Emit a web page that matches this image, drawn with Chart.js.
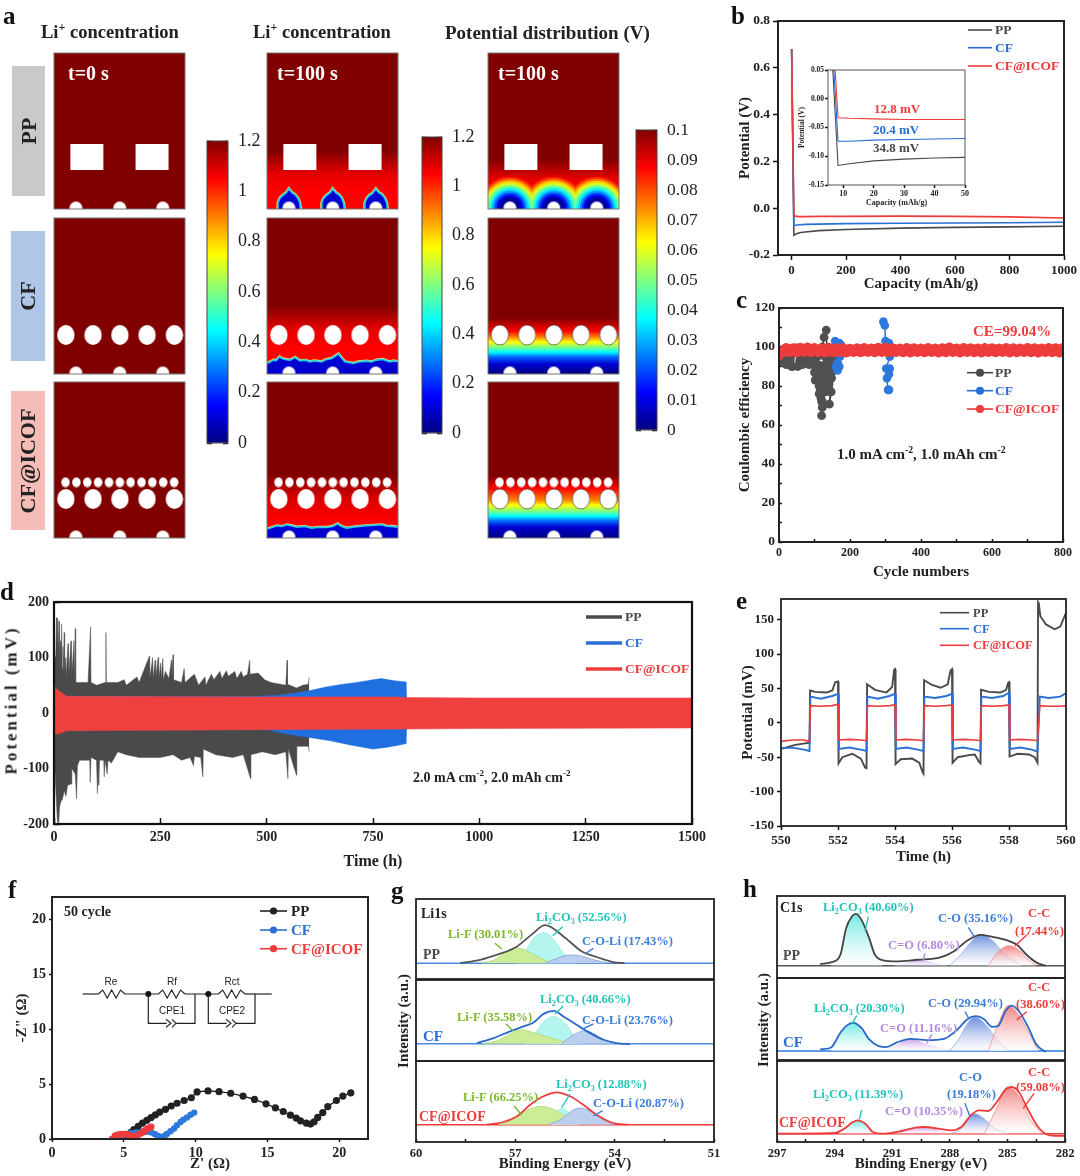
<!DOCTYPE html>
<html>
<head>
<meta charset="utf-8">
<script src="https://cdn.jsdelivr.net/npm/chart.js@4"></script>
<style>
html, body { margin: 0; padding: 0; background: #fff; }
#fig { position: relative; width: 1080px; height: 1176px; overflow: hidden; filter: blur(0.35px); }
#fig canvas { position: absolute; }
#fig svg { position: absolute; left: 0; top: 0; }
.t { position: absolute; white-space: nowrap; font-family: "Liberation Serif", serif; font-weight: bold; line-height: 1; }
.t sup, .t sub { font-size: 65%; line-height: 0; }
</style>
</head>
<body>
<div id="fig"></div>
<script>
// ---- panel a: fields (depth = height above the lower edge)
const holeRectX = [33, 98.5];
const holeRectY = [52, 52];
const holeBottomX = [22, 66, 109.3];
const holeBottomY = [1, 1, 1];
const holeBigX = [11.7, 39, 66, 93.3, 120.7];
const holeBigY = [39, 39, 39, 39, 39];
const holeSmallX = [11.3, 22.2, 33.1, 44, 54.9, 65.8, 76.7, 87.6, 98.5, 109.4, 120.3];
const holeSmallY = [56, 56, 56, 56, 56, 56, 56, 56, 56, 56, 56];

const flatDepth = [0, 156];
const flatLi = [1.2, 1.2];
const ppLiDepth = [0, 18, 35, 58, 156];
const ppLiConc = [1.05, 1.05, 1.08, 1.2, 1.2];
const cfLiDepth = [0, 25, 45, 68, 156];
const cfLiConc = [1.05, 1.05, 1.08, 1.2, 1.2];
const icofLiDepth = [0, 18, 38, 64, 156];
const icofLiConc = [1.05, 1.05, 1.09, 1.2, 1.2];
const ppVDepth = [0, 25, 50, 156];
const ppVPot = [0.0875, 0.0875, 0.1, 0.1];
const cfVDepth = [0, 10, 17, 22, 27, 32, 37, 43, 56, 156];
const cfVPot = [0, 0.008, 0.0225, 0.0375, 0.05, 0.0625, 0.075, 0.0875, 0.1, 0.1];
const icofVDepth = [0, 11, 17, 22, 27, 33, 38, 50, 62, 156];
const icofVPot = [0, 0.008, 0.0225, 0.0375, 0.05, 0.0625, 0.075, 0.0875, 0.1, 0.1];

const ppFrontX = [10.3, 11, 13, 16, 19, 22, 25, 28, 31, 33, 33.7, null, 54.3, 55, 57, 60, 63, 66, 69, 72, 75, 77, 77.7, null, 97.6, 98.3, 100.3, 103.3, 106.3, 109.3, 112.3, 115.3, 118.3, 120.3, 121];
const ppFrontY = [0, 6, 11, 14, 16, 20.3, 16.5, 14.5, 11, 6, 0, null, 0, 6, 11, 14, 16, 20.3, 16.5, 14.5, 11, 6, 0, null, 0, 6, 11, 14, 16, 20.3, 16.5, 14.5, 11, 6, 0];
const cfFrontX = [0, 3, 6.7, 9, 12.7, 15, 18.3, 23.3, 28.3, 31, 33.3, 38, 43.3, 47, 51.7, 55, 58.3, 65, 71.7, 75, 78.3, 82, 86.7, 92, 100, 105, 110, 116.7, 120, 123.3, 127, 131.6];
const cfFrontY = [10.7, 12, 14, 13.2, 17.3, 15.5, 14.7, 14, 16.7, 14.6, 13.3, 13.8, 12.3, 13.2, 12.7, 12.1, 14, 15.7, 20, 16, 12.3, 11.6, 10.7, 12.2, 13, 12.2, 14, 14.7, 13.4, 12.3, 13.2, 12.3];
const icofFrontX = [0, 5, 10, 15, 20, 25, 30, 38, 45, 52, 60, 66, 71, 75, 80, 90, 100, 108, 115, 120, 125, 131.6];
const icofFrontY = [9, 10.5, 12.3, 11.6, 13.3, 12.2, 11, 11.6, 10, 10.8, 10.7, 11.7, 14.3, 11.6, 10, 11.5, 12.3, 12.8, 13.3, 12, 11.7, 11];

const ringRadius = [33, 31, 29, 27, 25, 23, 21, 19, 17, 15, 13, 11];
const ringPot = [0.09, 0.083, 0.075, 0.067, 0.058, 0.05, 0.042, 0.034, 0.026, 0.018, 0.01, 0.003];

const liBarTicks = 0.2;
const vBarTicks = 0.01;

// ---- panel b
const capX = [0, 8.3, 12, 20, 30, 40, 50, 100, 200, 400, 600, 800, 1000];
const capPP = [0.68, -0.116, -0.113, -0.108, -0.105, -0.103, -0.102, -0.096, -0.091, -0.085, -0.082, -0.08, -0.077];
const capCF = [0.68, -0.074, -0.074, -0.072, -0.071, -0.07, -0.069, -0.068, -0.066, -0.064, -0.063, -0.062, -0.06];
const capICOF = [0.68, -0.033, -0.034, -0.035, -0.036, -0.036, -0.036, -0.035, -0.035, -0.034, -0.035, -0.037, -0.042];

// ---- panel c
const cePPx = [2, 6, 11, 15, 20, 25, 30, 35, 39, 44, 48, 53, 58, 62, 66, 70, 75, 80, 85, 90, 95, 99, 103, 100, 102, 105, 103, 108, 110, 113, 115, 113, 116, 113, 118, 120, 122, 120, 122, 125, 131, 129, 127, 129, 122, 127, 133, 136, 138, 141, 145, 142, 147, 148, 150, 148, 152, 146, 140, 136, 130];
const cePPy = [96, 94, 92, 95, 91, 93, 94, 90, 90, 97, 99.5, 90, 93, 97, 91, 94, 96, 92, 91, 95, 98, 93, 90, 87, 83, 86, 87.5, 95, 91, 90, 84, 80, 78, 76, 74, 72, 69, 64.8, 72, 79, 77, 83, 87, 91, 100, 105, 108.7, 91, 94, 81, 77, 70.7, 77, 84, 87.5, 92, 95, 86, 80, 88, 95];
const ceCFx = [158, 160, 163, 165, 160, 165, 170, 172, 175, 170, null, 294, 298, 300, 303, 310, 312, 302, 312, 310, 304, 307, 310];
const ceCFy = [103, 100, 97, 92, 90, 88, 90, 95, 101, 102, null, 113, 111, 103, 98, 102, 95, 89, 89, 86, 84, 78, 78];
const ceICOFx = [0, 10, 20, 30, 40, 50, 60, 70, 80, 90, 100, 110, 120, 130, 140, 150, 160, 170, 180, 190, 200, 210, 220, 230, 240, 250, 260, 270, 280, 290, 300, 310, 320, 330, 340, 350, 360, 370, 380, 390, 400, 410, 420, 430, 440, 450, 460, 470, 480, 490, 500, 510, 520, 530, 540, 550, 560, 570, 580, 590, 600, 610, 620, 630, 640, 650, 660, 670, 680, 690, 700, 710, 720, 730, 740, 750, 760, 770, 780, 790, 800];
const ceICOFy = [96, 97.6, 99.2, 97.7, 99.1, 97.6, 99.3, 97.8, 99.5, 97.6, 99.2, 97.7, 99, 97.5, 99.3, 97.7, 99.1, 97.6, 99.2, 97.5, 98.9, 97.7, 99.1, 97.6, 99.2, 97.8, 99, 97.6, 99.3, 97.7, 99.4, 97.5, 99.1, 97.7, 99, 97.6, 99.2, 97.5, 99.1, 97.7, 99, 97.6, 99.2, 97.7, 99, 97.5, 99.1, 97.6, 99.5, 97.7, 99, 97.5, 99.2, 97.7, 99.1, 97.6, 99, 97.5, 99.2, 97.7, 99.1, 97.6, 99, 97.7, 99.2, 97.5, 99.1, 97.6, 99, 97.7, 99.2, 97.6, 99.1, 97.5, 99, 97.7, 99.2, 97.6, 99.1, 97.5, 99.2];

// ---- panel d: envelopes of the cycling curves
const dPPupT = [0, 2, 4, 6, 7, 9, 10, 12, 13, 15, 16, 18, 19, 21, 22, 24, 25, 28, 29, 33, 34, 40, 41, 47, 48, 50, 51, 60, 80, 86, 87, 100, 120, 122, 123, 150, 165, 170, 195, 200, 224, 225, 232, 233, 238, 239, 245, 246, 251, 252, 256, 257, 262, 270, 276, 277, 280, 281, 300, 306, 308, 330, 340, 355, 357, 370, 376, 390, 395, 405, 410, 425, 430, 440, 445, 455, 460, 461, 480, 495, 510, 545, 548, 549, 570, 585, 598, 600];
const dPPupV = [60, 100, 95, 172, 120, 170, 110, 165, 90, 130, 85, 160, 80, 120, 75, 145, 70, 100, 65, 125, 60, 130, 58, 130, 55, 152, 55, 55, 55, 155, 55, 50, 55, 145, 55, 55, 60, 50, 65, 55, 102, 60, 100, 62, 95, 62, 100, 60, 90, 62, 98, 60, 75, 62, 95, 60, 105, 60, 55, 80, 55, 70, 50, 65, 50, 70, 60, 75, 62, 76, 66, 75, 62, 75, 65, 70, 95, 70, 72, 60, 55, 50, 95, 52, 45, 50, 52, 65];
const dPPdnT = [0, 2, 5, 8, 11, 13, 16, 20, 24, 28, 32, 40, 42, 50, 53, 55, 60, 84, 85, 87, 100, 102, 104, 105, 107, 117, 118, 120, 125, 127, 135, 150, 170, 200, 250, 280, 300, 320, 328, 330, 345, 350, 351, 380, 420, 445, 462, 463, 490, 520, 545, 550, 551, 570, 571, 598, 600];
const dPPdnV = [-60, -100, -150, -195, -200, -170, -160, -155, -140, -150, -130, -128, -100, -110, -155, -95, -85, -85, -125, -80, -85, -145, -90, -130, -85, -85, -115, -85, -110, -85, -90, -70, -75, -80, -80, -75, -85, -80, -95, -78, -80, -115, -65, -75, -80, -75, -118, -75, -70, -75, -70, -118, -65, -112, -60, -60, -70];
const dCFupT = [0, 480, 530, 570, 600, 640, 680, 720, 750, 770, 800, 828, 830];
const dCFupV = [30, 30, 32, 36, 40, 47, 52, 56, 60, 62, 58, 56, 0];
const dCFdnT = [0, 500, 550, 600, 650, 700, 750, 780, 810, 828, 830];
const dCFdnV = [-30, -30, -38, -44, -50, -58, -65, -62, -58, -55, 0];
const dICOFupT = [0, 8, 30, 500, 800, 830, 1000, 1500];
const dICOFupV = [50, 42, 30, 29, 29, 28, 27, 27];
const dICOFdnT = [0, 10, 30, 500, 830, 1000, 1500];
const dICOFdnV = [-38, -38, -32, -30, -29, -28, -27];

// ---- panel e
const ePPt = [550, 550.5, 551, 551.02, 551.2, 551.6, 551.8, 551.9, 552, 552.02, 552.15, 552.5, 552.8, 552.95, 553, 553.02, 553.3, 553.7, 553.9, 553.97, 554, 554.02, 554.2, 554.6, 554.85, 554.97, 555, 555.02, 555.3, 555.6, 555.85, 555.95, 556, 556.02, 556.2, 556.6, 556.8, 556.95, 557, 557.02, 557.3, 557.7, 557.9, 557.97, 558, 558.02, 558.3, 558.7, 558.9, 559, 559.02, 559.05, 559.1, 559.3, 559.6, 559.8, 560];
const ePPv = [-38, -32, -29, 47, 45, 44, 47, 59, 60, -59, -50, -45, -52, -65, -66, 56, 48, 44, 52, 77, 78, -60, -53, -52, -58, -72, -74, 62, 55, 51, 56, 76, 78, -58, -50, -47, -46, -57, -59, 48, 45, 44, 48, 58, 59, -49, -45, -46, -50, -58, 175, 172, 155, 143, 136, 140, 160];
const eTime = [550, 550.4, 550.8, 551, 551.03, 551.4, 551.8, 552, 552.03, 552.4, 552.8, 553, 553.03, 553.4, 553.8, 554, 554.03, 554.4, 554.8, 555, 555.03, 555.4, 555.8, 556, 556.03, 556.4, 556.8, 557, 557.03, 557.4, 557.8, 558, 558.03, 558.4, 558.8, 559, 559.08, 559.4, 559.8, 560];
const eCF = [-37, -36, -39, -41, 38, 35, 39, 42, -38, -36, -39, -41, 38, 35, 39, 42, -38, -36, -39, -41, 38, 36, 39, 42, -38, -36, -39, -41, 38, 36, 39, 44, -38, -36, -39, -42, 38, 36, 38, 43];
const eICOF = [-27, -25, -25, -27, 25, 24, 25, 27, -25, -24, -25, -26, 25, 24, 25, 26, -25, -24, -25, -26, 25, 24, 25, 26, -25, -24, -25, -26, 25, 24, 25, 26, -25, -24, -25, -26, 25, 24, 24, 25];

// ---- panel f
const fPPx = [5.3, 5.5, 5.7, 6, 6.3, 6.6, 6.9, 7.2, 7.5, 7.9, 8.3, 8.7, 9.2, 9.7, 10.1, 10.86, 11.63, 12.44, 13.3, 14.1, 14.9, 15.55, 16.1, 16.6, 17, 17.3, 17.7, 18, 18.25, 18.5, 18.85, 19.2, 19.8, 20.25, 20.8];
const fPPy = [0.3, 0.6, 0.85, 1.15, 1.45, 1.7, 1.95, 2.2, 2.45, 2.7, 3, 3.25, 3.5, 3.75, 4.28, 4.37, 4.3, 4.16, 3.9, 3.6, 3.2, 2.83, 2.5, 2.17, 1.9, 1.65, 1.45, 1.36, 1.57, 1.96, 2.4, 2.95, 3.5, 3.9, 4.2];
const fCFx = [4.65, 4.9, 5.2, 5.5, 5.85, 6.2, 6.55, 6.9, 7.15, 7.35, 7.55, 7.7, 7.85, 8, 8.25, 8.5, 8.7, 8.95, 9.15, 9.4, 9.65, 9.9];
const fCFy = [0, 0.25, 0.45, 0.55, 0.6, 0.65, 0.65, 0.6, 0.45, 0.3, 0.2, 0.15, 0.3, 0.45, 0.7, 0.95, 1.25, 1.55, 1.75, 1.95, 2.2, 2.4];
const fICOFx = [4.2, 4.4, 4.6, 4.8, 5, 5.2, 5.4, 5.6, 5.9, 6.1, 6.3, 6.45, 6.6, 6.75, 6.9];
const fICOFy = [0, 0.3, 0.4, 0.45, 0.45, 0.45, 0.35, 0.2, 0.3, 0.45, 0.6, 0.75, 0.9, 1, 1.1];

// ---- panel g (Li 1s): intensities as read, in arbitrary units
const gBase = [16, 17.3, 17.3];
const gEnvX = [[58.66, 58.06, 57.5, 57, 56.5, 56.1, 55.5, 55, 54.5, 54, 53.7],
               [58.16, 57.66, 57.16, 56.75, 56.45, 56.15, 55.83, 55.55, 55.15, 54.74, 54.34, 53.94, 53.54],
               [57.86, 57.36, 56.95, 56.55, 56.15, 55.75, 55.35, 54.95, 54.55, 54.05, 53.6]];
const gEnvY = [[16, 19.3, 25, 31.7, 45, 54.3, 41.7, 28, 21.7, 16.7, 16],
               [18, 23, 29.7, 34.7, 38.7, 47.3, 50.3, 44.7, 36.3, 28, 21.3, 18, 17],
               [17.3, 20, 25.7, 37.3, 45.7, 49.7, 45.7, 37.3, 27.3, 19, 17.3]];
const gLiFx = [[58, 57.6, 57.3, 57, 56.7, 56.4, 56.1, 55.9], [58, 57.5, 57.1, 56.8, 56.5, 56.1, 55.6, 55.2], [57.5, 57.1, 56.7, 56.2, 55.8, 55.5, 55.1]];
const gLiFy = [[16, 20, 27, 31.7, 29, 24, 19, 16], [17.3, 21, 28, 31.3, 29, 25, 20, 17.3], [17.3, 22, 31, 35.7, 32, 26, 17.3]];
const gCO3x = [[57, 56.7, 56.4, 56.1, 55.8, 55.5, 55.2], [56.7, 56.4, 56.1, 55.85, 55.5, 55.2, 55], [56, 55.8, 55.6, 55.35, 55.1]];
const gCO3y = [[16, 28, 43, 46.7, 38, 24, 16], [17.3, 28, 41, 44.7, 38, 24, 17.3], [17.3, 28, 34, 28, 17.3]];
const gCOLix = [[56.1, 55.8, 55.5, 55.3, 55, 54.7, 54.2], [55.6, 55.3, 54.9, 54.6, 54.3, 54], [56, 55.6, 55.3, 55.05, 54.7, 54.3, 54]];
const gCOLiy = [[16, 20, 23.5, 24.3, 23, 20, 16], [17.3, 25, 30.3, 27, 21, 17.3], [17.3, 23, 31, 34, 30, 21, 17.3]];

// ---- panel h (C 1s)
const hBase = [12.3, 9, 8.3];
const hEnvX = [[294.75, 294.2, 293.7, 293.4, 293.1, 292.9, 292.6, 292.2, 291.9, 291.45, 290.8, 289.7, 288.5, 287.8, 287.1, 286.4, 285.9, 285, 284.5, 284, 283.5, 283],
               [294.75, 294.2, 293.7, 293.4, 293.05, 292.6, 292.2, 291.7, 291.3, 290.8, 290.05, 289.2, 288.3, 287.6, 287.1, 286.65, 286.2, 285.8, 285.5, 285.1, 284.8, 284.4, 283.9, 283.5, 283],
               [297, 294, 293.5, 293.05, 292.8, 292.4, 292, 291.4, 290.5, 289.8, 289.3, 288.6, 287.9, 287.4, 286.9, 286.5, 286, 285.55, 285.1, 284.8, 284.4, 284, 283.4, 282.8, 282]];
const hEnvY = [[14, 15.7, 23.3, 50, 61.7, 64.3, 58.3, 40, 23.3, 17.7, 16.7, 18.3, 20.7, 26.7, 37.3, 43.3, 41.7, 37.7, 33.3, 23.3, 15.7, 12.3],
               [10.7, 12.3, 27.3, 34, 37.3, 32.3, 20.7, 14, 13, 17.3, 21.3, 20, 21.3, 30.7, 40.7, 44, 40.7, 33.3, 34, 49, 54.7, 49, 32.3, 15.7, 8],
               [8.3, 9, 13.3, 20, 21.7, 18.3, 10, 8.3, 11, 14.3, 15, 13.3, 11.7, 15, 26.7, 31.7, 31, 40, 52.3, 55, 50, 35, 15, 6.7, 6]];
const hCO3x = [[294.2, 293.7, 293.4, 293.1, 292.9, 292.6, 292.2, 291.9, 291.5], [294.2, 293.7, 293.4, 293.05, 292.6, 292.2, 291.7, 291.4], [293.8, 293.5, 293.05, 292.8, 292.4, 291.9]];
const hCO3y = [[12.3, 20, 48, 61.7, 64.3, 58.3, 40, 23.3, 12.3], [9, 26, 33, 37.3, 32.3, 20.7, 13, 9], [8.3, 13, 20, 21.7, 18, 8.3]];
const hCOx = [[291, 290.2, 289.7, 289, 288], [291.5, 290.7, 290, 289.2, 287.9], [291, 290.2, 289.5, 288.7, 287.8]];
const hCOy = [[12.3, 15.5, 18.3, 16, 12.3], [9, 16, 21.3, 16, 9], [8.3, 12, 15, 12.5, 8.3]];
const hCdOx = [[288, 287.4, 286.9, 286.4, 285.8, 285.2, 284.3], [288, 287.5, 287.1, 286.7, 286.2, 285.6, 284.9], [288, 287.5, 287.1, 286.7, 286.2, 285.7, 285]];
const hCdOy = [[12.3, 24, 36, 43.3, 38, 25, 12.3], [9, 22, 36, 43, 37, 22, 9], [8.3, 12, 23, 28.3, 23, 14, 8.3]];
const hCCx = [[286, 285.5, 284.9, 284.4, 284, 283.5], [286, 285.5, 284.95, 284.4, 283.9, 283.4], [286.2, 285.6, 285, 284.4, 283.8, 283.2]];
const hCCy = [[12.3, 26, 32.3, 28, 20, 12.3], [9, 35, 54.7, 45, 28, 9], [8.3, 32, 55, 46, 22, 8.3]];

// ---- drawing helpers
const SERIF = '"Liberation Serif", serif';
const GRAY = '#4a4a4a', BLUE = '#2a6fd6', RED = '#ee3b3b';
const fig = document.getElementById('fig');
Chart.defaults.animation = false;
Chart.defaults.responsive = false;

Chart.register({
    id: 'frame',
    beforeDraw(chart, args, opts) {
        if (!opts.fill) return;
        const a = chart.chartArea;
        chart.ctx.fillStyle = opts.fill;
        chart.ctx.fillRect(a.left, a.top, a.width, a.height);
    },
    afterDraw(chart, args, opts) {
        if (!opts.width) return;
        const a = chart.chartArea, c = chart.ctx;
        c.save();
        c.strokeStyle = opts.color;
        c.lineWidth = opts.width;
        c.strokeRect(a.left, a.top, a.width, a.height);
        c.restore();
    }
});

function pts(xs, ys) { return xs.map((x, i) => ({ x: x, y: ys[i] })); }

// painter's order: later in the list is drawn on top
function ordered(list) { list.forEach((d, i) => { d.order = list.length - i; }); return list; }

// box is the plot rectangle in page pixels, m the margins left round it for ticks and titles
function place(box, m, cfg) {
    const c = document.createElement('canvas');
    c.width = box.w + m.l + m.r;
    c.height = box.h + m.t + m.b;
    c.style.left = (box.x - m.l) + 'px';
    c.style.top = (box.y - m.t) + 'px';
    fig.appendChild(c);
    const pad = { left: m.l, right: m.r, top: m.t, bottom: m.b };
    const scales = cfg.options.scales;
    Object.keys(scales).forEach(k => {
        const s = scales[k];
        if (s.display === false) return;
        const pos = s.position || (k[0] === 'x' ? 'bottom' : 'left');
        const size = { left: m.l, right: m.r, top: m.t, bottom: m.b }[pos];
        pad[pos] = 0;
        s.afterFit = scale => {
            if (pos === 'left' || pos === 'right') scale.width = size; else scale.height = size;
        };
    });
    cfg.options.layout = { padding: pad, autoPadding: false };
    return new Chart(c, cfg);
}

function axis(min, max, step, o) {
    o = o || {};
    const size = o.size || 13;
    return {
        type: 'linear', min: min, max: max, reverse: !!o.reverse, position: o.position,
        border: { display: false },
        grid: { drawOnChartArea: false, tickLength: o.tick === undefined ? 5 : o.tick, tickColor: '#111', tickWidth: o.tickWidth || 1.5 },
        ticks: {
            stepSize: step, autoSkip: false, maxRotation: 0, includeBounds: false,
            padding: o.pad === undefined ? 3 : o.pad, color: '#222', display: o.labels !== false,
            font: { family: SERIF, weight: o.weight || 'bold', size: size },
            callback: o.cb || (v => v)
        },
        title: o.title ? { display: true, text: o.title, color: '#222', padding: o.titlePad || { top: 2, bottom: 2 },
            font: { family: SERIF, weight: 'bold', size: o.titleSize || 15 } } : { display: false }
    };
}

function lineDs(data, color, width, extra) {
    return Object.assign({ data: data, borderColor: color, backgroundColor: color, borderWidth: width,
        pointRadius: 0, fill: false, tension: 0, spanGaps: false }, extra || {});
}

function baseOptions(scales, frame) {
    return { scales: scales, events: [], plugins: { legend: { display: false }, tooltip: { enabled: false }, frame: frame } };
}

function label(x, y, html, o) {
    o = o || {};
    const d = document.createElement('div');
    d.className = 't';
    d.innerHTML = html;
    d.style.left = x + 'px';
    d.style.top = y + 'px';
    d.style.fontSize = (o.size || 13) + 'px';
    d.style.color = o.color || '#222';
    if (o.weight) d.style.fontWeight = o.weight;
    if (o.font) d.style.fontFamily = o.font;
    if (o.spacing) d.style.letterSpacing = o.spacing + 'px';
    let tf = 'translateY(-50%)';
    if (o.center) tf = 'translate(-50%,-50%)';
    if (o.rotate) tf += ' rotate(' + o.rotate + 'deg)';
    d.style.transform = tf;
    fig.appendChild(d);
}

// jet colour map used by the colour bars and fields
function jet(t) {
    const c = v => Math.round(255 * Math.max(0, Math.min(1, v)));
    return 'rgb(' + c(Math.min(4 * t - 1.5, 4.5 - 4 * t)) + ',' + c(Math.min(4 * t - 0.5, 3.5 - 4 * t)) + ',' + c(Math.min(4 * t + 0.5, 2.5 - 4 * t)) + ')';
}

// ---- panel a
function holeImage(w, h, kind, edge) {
    const c = document.createElement('canvas');
    c.width = w + 2; c.height = h + 2;
    const g = c.getContext('2d');
    g.fillStyle = '#fff';
    if (kind === 'rect') {
        g.fillRect(1, 1, w, h);
    } else {
        g.beginPath();
        g.ellipse(w / 2 + 1, h / 2 + 1, w / 2, h / 2, 0, 0, 7);
        g.fill();
        if (edge) { g.strokeStyle = edge; g.lineWidth = 0.7; g.stroke(); }
    }
    return c;
}

function fieldFill(depth, vals, vmax) {
    return ctx => {
        const y = ctx.chart.scales.y;
        const y0 = y.getPixelForValue(0), y1 = y.getPixelForValue(156);
        if (!isFinite(y0) || !isFinite(y1)) return '#800000';
        const g = ctx.chart.ctx.createLinearGradient(0, y0, 0, y1);
        depth.forEach((d, i) => g.addColorStop(d / 156, jet(vals[i] / vmax)));
        return g;
    };
}

function holes(xs, ys, img) {
    return lineDs(pts(xs, ys), '#fff', 0, { showLine: false, pointRadius: 3, pointStyle: img, clip: 0 });
}

function heatPanel(x, y, sets) {
    const ds = ordered(sets);
    place({ x: x, y: y, w: 131.5, h: 156 }, { l: 1, r: 1, t: 1, b: 1 }, {
        type: 'line', data: { datasets: ds },
        options: baseOptions({
            x: { type: 'linear', display: false, min: 0, max: 131.6 },
            y: { type: 'linear', display: false, min: 0, max: 156 }
        }, { width: 1, color: '#777' })
    });
}

function field(depth, vals, vmax) {
    return lineDs(pts([0, 131.6], [156, 156]), 'transparent', 0, { fill: 'start', backgroundColor: fieldFill(depth, vals, vmax), clip: 0 });
}

function fronts(xs, ys) {
    const smooth = { clip: 0 };
    return [
        lineDs(pts(xs, ys), '#f5e84a', 3, smooth),
        lineDs(pts(xs, ys), '#25c8e8', 1.8, Object.assign({ fill: 'start', backgroundColor: '#0000d0' }, smooth))
    ];
}

function rings(level) {
    return ringRadius.map((r, i) => lineDs(pts(holeBottomX, holeBottomY), jet(ringPot[i] / level), 0,
        { showLine: false, pointRadius: r, pointBorderWidth: 0, clip: 0 }));
}

const rectImg = holeImage(33, 26, 'rect');
const bigImg = holeImage(17.4, 20, 'oval');
const bigImgE = holeImage(17.4, 20, 'oval', '#444');
const smallImg = holeImage(8.6, 9.6, 'oval');
const botImg = holeImage(13, 13, 'oval');

const colX = [54, 266.8, 487.7];
const rowY = [52.7, 218.3, 382.3];

heatPanel(colX[0], rowY[0], [field(flatDepth, flatLi, 1.2), holes(holeRectX, holeRectY, rectImg), holes(holeBottomX, holeBottomY, botImg)]);
heatPanel(colX[0], rowY[1], [field(flatDepth, flatLi, 1.2), holes(holeBigX, holeBigY, bigImg), holes(holeBottomX, holeBottomY, botImg)]);
heatPanel(colX[0], rowY[2], [field(flatDepth, flatLi, 1.2), holes(holeSmallX, holeSmallY, smallImg), holes(holeBigX, holeBigY, bigImg), holes(holeBottomX, holeBottomY, botImg)]);

heatPanel(colX[1], rowY[0], [field(ppLiDepth, ppLiConc, 1.2)].concat(fronts(ppFrontX, ppFrontY), [holes(holeRectX, holeRectY, rectImg), holes(holeBottomX, holeBottomY, botImg)]));
heatPanel(colX[1], rowY[1], [field(cfLiDepth, cfLiConc, 1.2)].concat(fronts(cfFrontX, cfFrontY), [holes(holeBigX, holeBigY, bigImg), holes(holeBottomX, holeBottomY, botImg)]));
heatPanel(colX[1], rowY[2], [field(icofLiDepth, icofLiConc, 1.2)].concat(fronts(icofFrontX, icofFrontY), [holes(holeSmallX, holeSmallY, smallImg), holes(holeBigX, holeBigY, bigImg), holes(holeBottomX, holeBottomY, botImg)]));

heatPanel(colX[2], rowY[0], [field(ppVDepth, ppVPot, 0.1)].concat(rings(0.1), [holes(holeRectX, holeRectY, rectImg), holes(holeBottomX, holeBottomY, botImg)]));
heatPanel(colX[2], rowY[1], [field(cfVDepth, cfVPot, 0.1), holes(holeBigX, holeBigY, bigImgE), holes(holeBottomX, holeBottomY, botImg)]);
heatPanel(colX[2], rowY[2], [field(icofVDepth, icofVPot, 0.1), holes(holeSmallX, holeSmallY, smallImg), holes(holeBigX, holeBigY, bigImgE), holes(holeBottomX, holeBottomY, botImg)]);

function colorBar(box, vmax, step) {
    const fill = ctx => {
        const a = ctx.chart.chartArea;
        if (!a || !isFinite(a.top) || !isFinite(a.bottom)) return '#800000';
        const g = ctx.chart.ctx.createLinearGradient(0, a.bottom, 0, a.top);
        [0, 0.125, 0.375, 0.625, 0.875, 1].forEach(t => g.addColorStop(t, jet(t)));
        return g;
    };
    const cb = v => +v.toFixed(2);
    place(box, { l: 1, r: 50, t: 28, b: 28 }, {
        type: 'bar',
        data: { labels: ['c'], datasets: [{ data: [vmax], backgroundColor: fill, barPercentage: 1, categoryPercentage: 1, yAxisID: 'y' }] },
        options: baseOptions({
            x: { display: false },
            y: axis(0, vmax, step, { position: 'right', tick: -5, pad: 15, size: step < 0.1 ? 17.5 : 18, weight: 'normal', cb: cb }),
            y2: axis(0, vmax, step, { position: 'left', tick: -5, labels: false })
        }, { width: 1, color: '#444' })
    });
}
colorBar({ x: 207.3, y: 141, w: 21, h: 302 }, 1.2, liBarTicks);
colorBar({ x: 422.3, y: 137, w: 20.5, h: 296.5 }, 1.2, liBarTicks);
colorBar({ x: 635.7, y: 130, w: 21, h: 300 }, 0.1, vBarTicks);

// ---- panel b
place({ x: 778, y: 20.5, w: 287.5, h: 234.5 }, { l: 44, r: 14.5, t: 12, b: 40 }, {
    type: 'line',
    data: { datasets: ordered([
        lineDs(pts(capX, capPP), GRAY, 1.6),
        lineDs(pts(capX, capCF), BLUE, 1.6),
        lineDs(pts(capX, capICOF), RED, 1.6)
    ]) },
    options: baseOptions({
        x: axis(-50, 1000, 200, { title: 'Capacity (mAh/g)', size: 13 }),
        y: axis(-0.2, 0.8, 0.2, { title: 'Potential (V)', size: 13.5, cb: v => v.toFixed(1) })
    }, { width: 2, color: '#222' })
});
place({ x: 827.7, y: 70, w: 137.6, h: 115 }, { l: 31, r: 8, t: 6, b: 24 }, {
    type: 'line',
    data: { datasets: ordered([
        lineDs(pts(capX, capPP), GRAY, 1.1),
        lineDs(pts(capX, capCF), BLUE, 1.1),
        lineDs(pts(capX, capICOF), RED, 1.1)
    ]) },
    options: baseOptions({
        x: axis(5, 50, 10, { title: 'Capacity (mAh/g)', size: 8, titleSize: 8, tick: 3, pad: 1, titlePad: { top: 0, bottom: 1 } }),
        y: axis(-0.15, 0.05, 0.05, { title: 'Potential (V)', size: 7.5, titleSize: 7.5, tick: 3, pad: 1, titlePad: { top: 1, bottom: 0 }, cb: v => v.toFixed(2) })
    }, { width: 1, color: '#555', fill: '#fff' })
});

// ---- panel c
const balls = (c, r) => ({ pointRadius: r, pointBackgroundColor: c, pointBorderColor: c, pointBorderWidth: 0 });
place({ x: 779, y: 308.3, w: 288.7, h: 234 }, { l: 45, r: 12, t: 16, b: 41 }, {
    type: 'line',
    data: { datasets: ordered([
        lineDs(pts(cePPx, cePPy), '#333', 1.5, balls('#505050', 4.4)),
        lineDs(pts(ceCFx, ceCFy), BLUE, 1.5, balls('#2d78dc', 4.3)),
        lineDs(pts(ceICOFx, ceICOFy), RED, 8, balls('#ee3b3b', 5.5))
    ]) },
    options: baseOptions({
        x: axis(0, 800, 100, { tick: -3, pad: 7, size: 12, title: 'Cycle numbers', cb: v => v % 200 === 0 ? v : '' }),
        y: axis(0, 120, 10, { tick: -3, pad: 7, size: 13.5, title: 'Coulombic efficiency', cb: v => v % 20 === 0 ? v : '' })
    }, { width: 2, color: '#222' })
});

// ---- panel d
place({ x: 53.5, y: 602, w: 638, h: 222 }, { l: 53, r: 26, t: 20, b: 49 }, {
    type: 'line',
    data: { datasets: ordered([
        lineDs(pts(dPPupT, dPPupV), '#4a4a4a', 0.5, { fill: 'origin' }),
        lineDs(pts(dPPdnT, dPPdnV), '#4a4a4a', 0.5, { fill: 'origin' }),
        lineDs(pts(dCFupT, dCFupV), '#1f6fe0', 0.5, { fill: 'origin' }),
        lineDs(pts(dCFdnT, dCFdnV), '#1f6fe0', 0.5, { fill: 'origin' }),
        lineDs(pts(dICOFupT, dICOFupV), '#ef4040', 0.5, { fill: 'origin' }),
        lineDs(pts(dICOFdnT, dICOFdnV), '#ef4040', 0.5, { fill: 'origin' })
    ]) },
    options: baseOptions({
        x: axis(0, 1500, 250, { tick: -6, pad: 11, size: 14, title: 'Time (h)', titleSize: 16 }),
        y: axis(-200, 200, 100, { tick: -6, pad: 11, size: 14 })
    }, { width: 2.2, color: '#111' })
});
label(11, 700, 'Potential (mV)', { size: 17, center: true, rotate: -90, spacing: 3 });

// ---- panel e
place({ x: 781, y: 599, w: 285.7, h: 227 }, { l: 44, r: 13, t: 12, b: 42 }, {
    type: 'line',
    data: { datasets: ordered([
        lineDs(pts(ePPt, ePPv), GRAY, 1.9),
        lineDs(pts(eTime, eCF), BLUE, 1.9),
        lineDs(pts(eTime, eICOF), RED, 1.6)
    ]) },
    options: baseOptions({
        x: axis(550, 560, 2, { size: 13, title: 'Time (h)', tick: 4 }),
        y: axis(-150, 180, 50, { size: 13, title: 'Potential (mV)', tick: 4 })
    }, { width: 1.8, color: '#222' })
});

// ---- panel f
place({ x: 51.7, y: 897.3, w: 316.6, h: 242.7 }, { l: 41, r: 12, t: 12, b: 36 }, {
    type: 'line',
    data: { datasets: ordered([
        lineDs(pts(fPPx, fPPy), '#111', 1.2, balls('#222', 3.6)),
        lineDs(pts(fCFx, fCFy), BLUE, 1.2, balls('#2d78dc', 3.2)),
        lineDs(pts(fICOFx, fICOFy), RED, 1.2, balls('#ee3b3b', 3.4))
    ]) },
    options: baseOptions({
        x: axis(0, 22, 5, { size: 14, title: "Z' (\u03a9)", tick: 3, titleSize: 15 }),
        y: axis(0, 22, 5, { size: 14, title: '-Z" (\u03a9)', tick: 3, titleSize: 15 })
    }, { width: 2, color: '#222' })
});

// ---- panels g and h
function xps(box, xAxis, base, env, envColor, baseColor, peaks, bottom) {
    const sets = [lineDs(pts(xAxis.ends, [base, base]), baseColor, 1.5)];
    peaks.forEach(p => sets.push(lineDs(pts(p.x, p.y), p.edge, 0.8, { fill: { value: base }, backgroundColor: p.fill, cubicInterpolationMode: 'monotone' })));
    sets.push(lineDs(pts(env.x, env.y), envColor, 1.8, { cubicInterpolationMode: 'monotone' }));
    const xOpt = { reverse: true, tick: -3, pad: 7, size: 12.5, cb: v => (v % xAxis.major === 0 ? v : '') };
    if (bottom) xOpt.title = 'Binding Energy (eV)';
    else { xOpt.labels = false; xOpt.tick = 0; }
    place(box, { l: 20, r: 18, t: 2, b: bottom ? 33 : 2 }, {
        type: 'line',
        data: { datasets: ordered(sets) },
        options: baseOptions({
            x: axis(xAxis.min, xAxis.max, xAxis.step, xOpt),
            y: { type: 'linear', display: false, min: 0, max: box.h }
        }, { width: 1.8, color: '#222' })
    });
}

// gradient runs from the top of the peak down to its baseline
function fade(color, ys, base) {
    return ctx => {
        const s = ctx.chart.scales.y;
        const y0 = s.getPixelForValue(Math.max.apply(null, ys)), y1 = s.getPixelForValue(base);
        if (!isFinite(y0) || !isFinite(y1)) return color;
        const g = ctx.chart.ctx.createLinearGradient(0, y0, 0, y1);
        g.addColorStop(0, color);
        g.addColorStop(1, 'rgba(255,255,255,0.5)');
        return g;
    };
}

const gX = { min: 51, max: 60, step: 1.5, major: 3, ends: [60, 51] };
const gTop = [899.3, 980, 1061.3];
const gH = [80.7, 81.3, 81];
const gEnvColor = ['#555', '#2a68c8', RED];
const gBaseColor = ['#4a8ae0', '#4a8ae0', RED];
[0, 1, 2].forEach(i => {
    xps({ x: 415.7, y: gTop[i], w: 298.3, h: gH[i] }, gX, gBase[i],
        { x: gEnvX[i], y: gEnvY[i] }, gEnvColor[i], gBaseColor[i], [
            { x: gCO3x[i], y: gCO3y[i], fill: '#b4f5f0', edge: '#9ce8e2' },
            { x: gLiFx[i], y: gLiFy[i], fill: '#cdec98', edge: '#b0d878' },
            { x: gCOLix[i], y: gCOLiy[i], fill: '#bccfee', edge: '#7fa0dc' }
        ], i === 2);
});

const hX = { min: 282, max: 297, step: 1.5, major: 3, ends: [297, 282] };
const hTop = [896, 978.3, 1060.7];
const hH = [82.3, 82.4, 81];
const hEnvColor = ['#444', '#2a68c8', RED];
const hBaseColor = ['#555', '#2a78e0', RED];
[0, 1, 2].forEach(i => {
    const b = hBase[i];
    xps({ x: 776.7, y: hTop[i], w: 288.3, h: hH[i] }, hX, b,
        { x: hEnvX[i], y: hEnvY[i] }, hEnvColor[i], hBaseColor[i], [
            { x: hCO3x[i], y: hCO3y[i], fill: fade('rgba(90,230,220,0.85)', hCO3y[i], b), edge: 'transparent' },
            { x: hCOx[i], y: hCOy[i], fill: fade('rgba(190,140,230,0.85)', hCOy[i], b), edge: 'transparent' },
            { x: hCdOx[i], y: hCdOy[i], fill: fade('rgba(90,130,220,0.9)', hCdOy[i], b), edge: '#8fb0e8' },
            { x: hCCx[i], y: hCCy[i], fill: fade('rgba(240,110,110,0.85)', hCCy[i], b), edge: '#f09090' }
        ], i === 2);
});

// ---- overlay: legends, leaders and the equivalent circuit
let svg = '';
function seg(x1, y1, x2, y2, c, w) { svg += '<line x1="' + x1 + '" y1="' + y1 + '" x2="' + x2 + '" y2="' + y2 + '" stroke="' + c + '" stroke-width="' + w + '"/>'; }
function dot(x, y, r, c) { svg += '<circle cx="' + x + '" cy="' + y + '" r="' + r + '" fill="' + c + '"/>'; }
function poly(p, c, w) { svg += '<polyline fill="none" points="' + p.join(' ') + '" stroke="' + c + '" stroke-width="' + w + '"/>'; }

function legendRow(x0, x1, y, tx, name, color, o) {
    o = o || {};
    seg(x0, y, x1, y, color, o.w || 1.6);
    if (o.r) dot((x0 + x1) / 2, y, o.r, color);
    label(tx, y, name, { color: color, size: o.size || 13.5 });
}

[['PP', 30, GRAY], ['CF', 47.7, BLUE], ['CF@ICOF', 66, RED]].forEach(r => legendRow(968, 992, r[1], 995, r[0], r[2], { size: 13.5 }));
[['PP', 372.7, '#4a4a4a'], ['CF', 390.7, BLUE], ['CF@ICOF', 409, RED]].forEach(r => legendRow(967, 993, r[1], 995, r[0], r[2], { r: 4, size: 13.5 }));
[['PP', 617, '#4a4a4a'], ['CF', 643, BLUE], ['CF@ICOF', 669, RED]].forEach(r => legendRow(586, 622, r[1], 625, r[0], r[2], { w: 3.5, size: 13.5 }));
[['PP', 612.7, GRAY], ['CF', 628.7, BLUE], ['CF@ICOF', 645.3, RED]].forEach(r => legendRow(940, 969, r[1], 973, r[0], r[2], { size: 12.5 }));
[['PP', 911, '#222'], ['CF', 930, BLUE], ['CF@ICOF', 948.7, RED]].forEach(r => legendRow(260, 287, r[1], 291, r[0], r[2], { r: 3.6, size: 15 }));

// leaders, as x1,y1,x2,y2 on the page
const gLeaders = [[495, 943.3, 501.7, 949, '#7cb82a'], [562.7, 926.7, 552.7, 935.7, '#22c4bc'], [593.3, 948.3, 585, 954, '#3b7dd8'],
    [506, 1024, 513.3, 1031, '#7cb82a'], [563.3, 1006, 555, 1014, '#22c4bc'], [593.3, 1024, 581.7, 1029.3, '#3b7dd8'],
    [514, 1106, 521.7, 1115, '#7cb82a'], [570, 1094, 561.7, 1107.3, '#22c4bc'], [602.7, 1110.7, 593.3, 1116, '#3b7dd8']];
const hLeaders = [[868.3, 916.7, 865, 931.7, '#22c4bc'], [968.3, 927.3, 974.3, 936.7, '#3b7dd8'], [925, 953.3, 923.3, 960, '#b48ae0'], [1026.7, 935, 1015, 946, RED],
    [856.7, 1015.7, 851.7, 1024, '#22c4bc'], [965, 1011.7, 969.3, 1019.3, '#3b7dd8'], [931.7, 1034.3, 926.7, 1043.3, '#b48ae0'], [1026.7, 1011.7, 1016.7, 1020, RED],
    [861.7, 1110, 859.3, 1119.3, '#22c4bc'], [965, 1103.3, 970, 1116.7, '#3b7dd8'], [1034, 1093.3, 1023.3, 1108.3, RED]];
gLeaders.concat(hLeaders).forEach(l => seg(l[0], l[1], l[2], l[3], l[4], 1.4));

// equivalent circuit in panel f
const cy = 994;
function resistor(a, b) {
    const p = [a + ',' + cy];
    const teeth = 6;
    for (let i = 1; i < teeth; i++) p.push((a + (b - a) * i / teeth) + ',' + (cy + (i % 2 ? -4 : 4)));
    p.push(b + ',' + cy);
    poly(p, '#222', 1.1);
}
function capacitor(x, y) {
    poly([(x) + ',' + (y - 4), (x + 5) + ',' + y, x + ',' + (y + 4)], '#222', 1.1);
    poly([(x + 6) + ',' + (y - 4), (x + 10) + ',' + y, (x + 6) + ',' + (y + 4)], '#222', 1.1);
}
seg(82.7, cy, 98.3, cy, '#222', 1.2); resistor(98.3, 125);
seg(125, cy, 158.3, cy, '#222', 1.2); resistor(158.3, 185);
seg(185, cy, 218.3, cy, '#222', 1.2); resistor(218.3, 245);
seg(245, cy, 271.7, cy, '#222', 1.2);
dot(148.3, cy, 3, '#111'); dot(208.3, cy, 3, '#111');
poly(['148.3,' + cy, '148.3,1023.3', '166.7,1023.3'], '#222', 1.2);
poly(['176,1023.3', '195,1023.3', '195,' + cy], '#222', 1.2);
poly(['208.3,' + cy, '208.3,1023.3', '226.7,1023.3'], '#222', 1.2);
poly(['236,1023.3', '255,1023.3', '255,' + cy], '#222', 1.2);
capacitor(166, 1023.3); capacitor(226, 1023.3);

fig.insertAdjacentHTML('beforeend', '<svg width="1080" height="1176">' + svg + '</svg>');

// ---- text
const panelLetters = [['a', 3, 15], ['b', 731, 15], ['c', 736, 299], ['d', 0, 591], ['e', 736, 600], ['f', 8, 889], ['g', 391, 890], ['h', 743, 888]];
panelLetters.forEach(p => label(p[1], p[2], p[0], { size: 25, color: '#111' }));

label(41, 32, 'Li<sup>+</sup> concentration', { size: 18.5, color: '#222' });
label(253, 32, 'Li<sup>+</sup> concentration', { size: 18.5, color: '#222' });
label(445, 32, 'Potential distribution (V)', { size: 19, color: '#222' });
label(68, 73, 't=0 s', { size: 20, color: '#fff' });
label(277, 73, 't=100 s', { size: 20, color: '#fff' });
label(498, 73, 't=100 s', { size: 20, color: '#fff' });

function tag(x, y, w, h, name, bg) {
    const d = document.createElement('div');
    d.style.cssText = 'position:absolute;left:' + x + 'px;top:' + y + 'px;width:' + w + 'px;height:' + h + 'px;background:' + bg;
    fig.appendChild(d);
    label(x + w / 2, y + h / 2, name, { size: 22, center: true, rotate: -90, color: '#222' });
}
tag(12, 66, 33, 130, 'PP', '#c9c9c9');
tag(11, 231, 34, 130, 'CF', '#b0c6e6');
tag(11, 391, 34, 139, 'CF@ICOF', '#f5bdb8');

label(874, 108, '12.8 mV', { size: 13, color: RED });
label(873, 129, '20.4 mV', { size: 13, color: BLUE });
label(873, 147, '34.8 mV', { size: 13, color: GRAY });

label(973, 331, 'CE=99.04%', { size: 15, color: RED });
label(837, 454, '1.0 mA cm<sup>-2</sup>, 1.0 mAh cm<sup>-2</sup>', { size: 15, color: '#222' });
label(413, 778, '2.0 mA cm<sup>-2</sup>, 2.0 mAh cm<sup>-2</sup>', { size: 14, color: '#222' });
label(64, 912, '50 cycle', { size: 14, color: '#222' });

const circuitLabels = [['Re', 111, 982], ['Rf', 172, 982], ['Rct', 232, 982], ['CPE1', 172, 1011], ['CPE2', 232, 1011]];
circuitLabels.forEach(c => label(c[1], c[2], c[0], { size: 10, center: true, weight: 'normal', font: '"Liberation Sans", sans-serif', color: '#222' }));

const GREEN = '#7cb82a', CYAN = '#22c4bc', SOFT = '#3b7dd8', PURP = '#b48ae0';
const CO3 = 'Li<sub>2</sub>CO<sub>3</sub> ';
const gTexts = [['Li1s', 421, 914, '#222', 14], ['PP', 423, 955, GRAY, 14], ['Li-F (30.01%)', 448, 934, GREEN], [CO3 + '(52.56%)', 536, 917, CYAN], ['C-O-Li (17.43%)', 582, 941, SOFT],
    ['CF', 423, 1036, BLUE, 15], ['Li-F (35.58%)', 457, 1017, GREEN], [CO3 + '(40.66%)', 540, 999, CYAN], ['C-O-Li (23.76%)', 582, 1020, SOFT],
    ['CF@ICOF', 419, 1117, RED, 14], ['Li-F (66.25%)', 463, 1097, GREEN], [CO3 + '(12.88%)', 556, 1084, CYAN], ['C-O-Li (20.87%)', 593, 1103, SOFT]];
const hTexts = [['C1s', 780, 908, '#222', 14], ['PP', 783, 956, GRAY, 14], [CO3 + '(40.60%)', 823, 907, CYAN], ['C-O (35.16%)', 938, 918, SOFT], ['C=O (6.80%)', 888, 945, PURP], ['C-C', 1028, 913, RED], ['(17.44%)', 1015, 931, RED],
    ['CF', 783, 1042, BLUE, 15], [CO3 + '(20.30%)', 814, 1008, CYAN], ['C-O (29.94%)', 928, 1003, SOFT], ['C=O (11.16%)', 880, 1028, PURP], ['C-C', 1028, 987, RED], ['(38.60%)', 1016, 1004, RED],
    ['CF@ICOF', 779, 1123, RED, 14], [CO3 + '(11.39%)', 813, 1094, CYAN], ['C-O', 959, 1077, SOFT], ['(19.18%)', 947, 1094, SOFT], ['C=O (10.35%)', 885, 1111, PURP], ['C-C', 1028, 1072, RED], ['(59.08%)', 1016, 1087, RED]];
gTexts.concat(hTexts).forEach(t => label(t[1], t[2], t[0], { color: t[3], size: t[4] || 12.5 }));

label(403, 1021, 'Intensity (a.u.)', { size: 15, center: true, rotate: -90 });
label(763, 1020, 'Intensity (a.u.)', { size: 15, center: true, rotate: -90 });
</script>
</body>
</html>
